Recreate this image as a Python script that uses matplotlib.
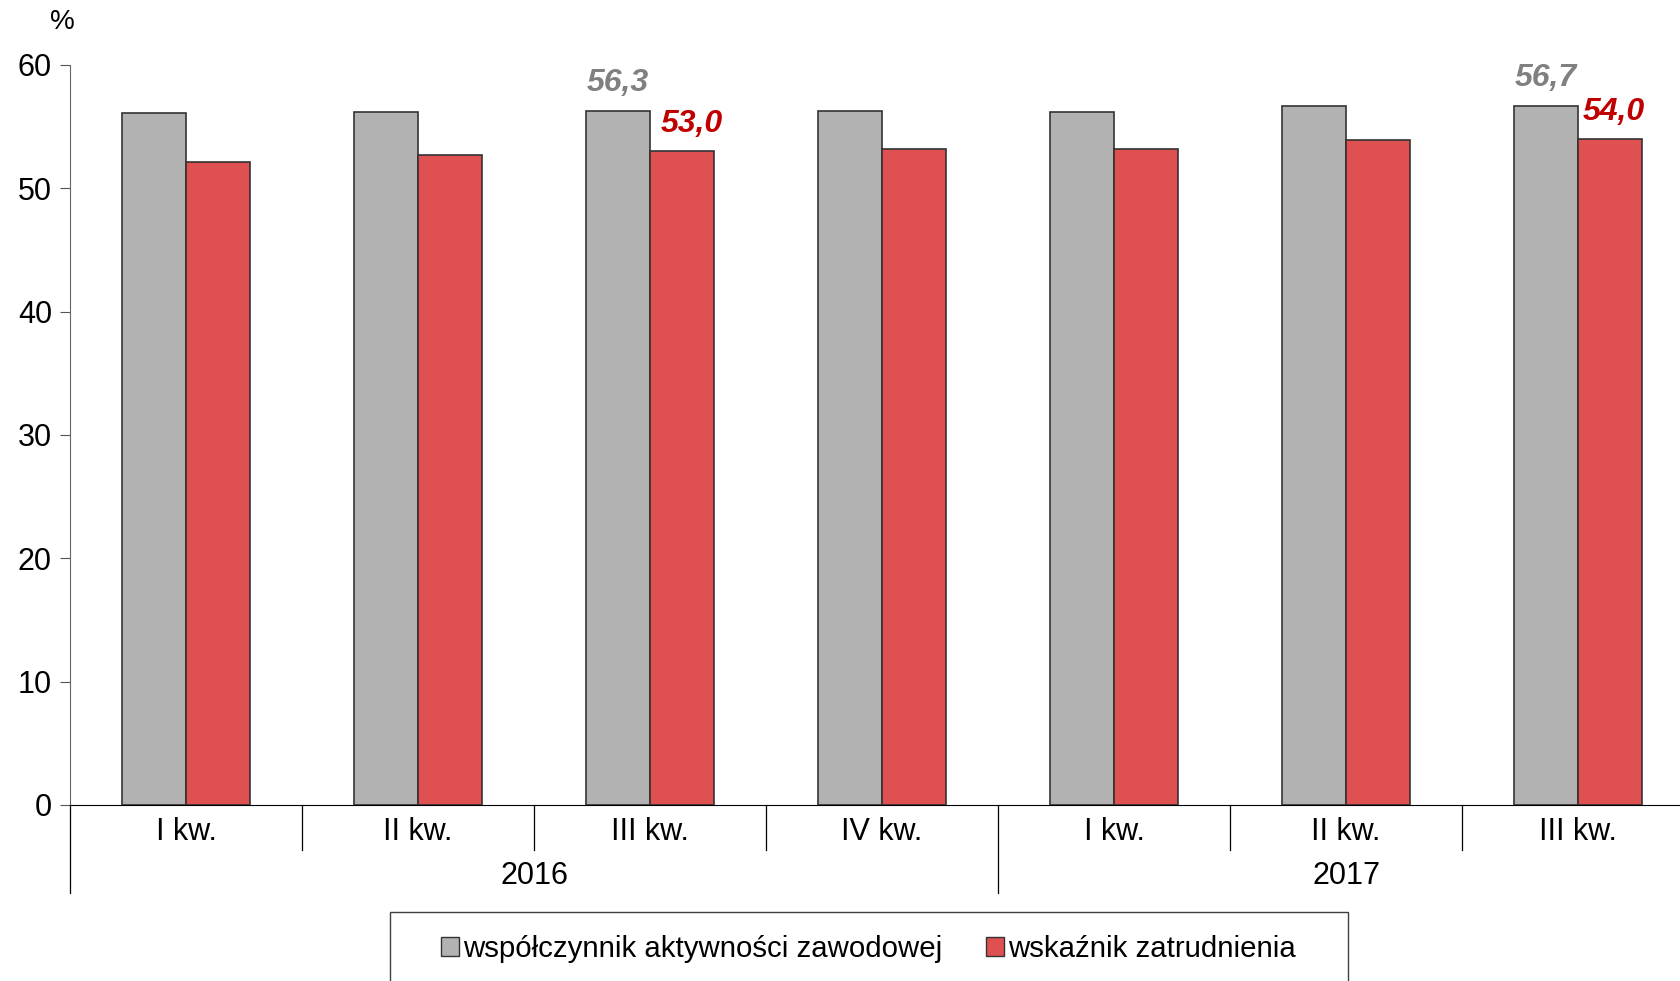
import matplotlib
matplotlib.use('Agg')
from matplotlib import pyplot as plt
from matplotlib.patches import Patch, Rectangle
import matplotlib.transforms as mtransforms

plt.rcParams['font.family'] = ['Liberation Sans', 'DejaVu Sans']

kwartaly = ['I kw.', 'II kw.', 'III kw.', 'IV kw.', 'I kw.', 'II kw.', 'III kw.']
lata = ['2016', '2017']
aktywnosc = [56.1, 56.2, 56.3, 56.3, 56.2, 56.7, 56.7]
zatrudnienie = [52.1, 52.7, 53.0, 53.2, 53.2, 53.9, 54.0]

szary = '#B2B2B2'
czerwony = '#DF5050'

fig = plt.figure(figsize=(16.81, 9.81), dpi=100)
ax = fig.add_axes([70 / 1681, 176 / 981, 1 - 70 / 1681, 740 / 981])

x = list(range(len(kwartaly)))
w = 0.277
ax.bar([i - w / 2 for i in x], aktywnosc, width=w, color=szary, edgecolor='#333333', linewidth=1.2)
ax.bar([i + w / 2 for i in x], zatrudnienie, width=w, color=czerwony, edgecolor='#333333', linewidth=1.2)

ax.set_xlim(-0.5, -0.5 + 1611 / 232)
ax.set_ylim(0, 60)
ax.set_yticks(range(0, 61, 10))
ax.tick_params(axis='y', labelsize=22, length=7, color='#555555', pad=6)
ax.set_xticks([])
ax.spines['top'].set_visible(False)
ax.spines['right'].set_visible(False)
ax.spines['left'].set_color('#666666')
ax.spines['left'].set_bounds(0, 60)
ax.spines['bottom'].set_color('black')

# etykiety wartosci dla III kw.
for i, dx in ((2, 0.04), (6, 0.015)):
    ax.text(i - w / 2, aktywnosc[i] + 1.0, f'{aktywnosc[i]:.1f}'.replace('.', ','),
            ha='center', va='bottom', fontsize=23, fontweight='bold', style='italic', color='#808080')
    ax.text(i + w / 2 + dx, zatrudnienie[i] + 1.0, f'{zatrudnienie[i]:.1f}'.replace('.', ','),
            ha='center', va='bottom', fontsize=23, fontweight='bold', style='italic', color='#C00000')

fig.text(62 / 1681, 1 - 22 / 981, '%', ha='center', va='center', fontsize=20)

# dwupoziomowa os x
tr = mtransforms.blended_transform_factory(ax.transData, ax.transAxes)
for b in (0.5, 1.5, 2.5, 4.5, 5.5):
    ax.plot([b, b], [0, -0.0608], transform=tr, color='black', lw=0.9, clip_on=False)
for b in (-0.5, 3.5):
    ax.plot([b, b], [0, -0.119], transform=tr, color='black', lw=0.9, clip_on=False)
for i, k in enumerate(kwartaly):
    ax.text(i, -0.0365, k, transform=tr, ha='center', va='center', fontsize=22)
ax.text(1.5, -0.096, lata[0], transform=tr, ha='center', va='center', fontsize=22)
ax.text(5, -0.096, lata[1], transform=tr, ha='center', va='center', fontsize=22)

# legenda
fig.add_artist(Rectangle((390 / 1681, -0.05), (1348 - 390) / 1681, 69 / 981 + 0.05,
                         transform=fig.transFigure, facecolor='white', edgecolor='#404040', lw=1))
uchwyty = [Patch(facecolor=szary, edgecolor='#333333', label='współczynnik aktywności zawodowej'),
           Patch(facecolor=czerwony, edgecolor='#333333', label='wskaźnik zatrudnienia')]
fig.legend(handles=uchwyty, loc='center left', bbox_to_anchor=(429 / 1681, 32 / 981), ncol=2,
           frameon=False, fontsize=21.2, handlelength=0.62, handleheight=0.62, handletextpad=0.12,
           columnspacing=1.5, borderaxespad=0)

fig.savefig('out.png', dpi=100)
